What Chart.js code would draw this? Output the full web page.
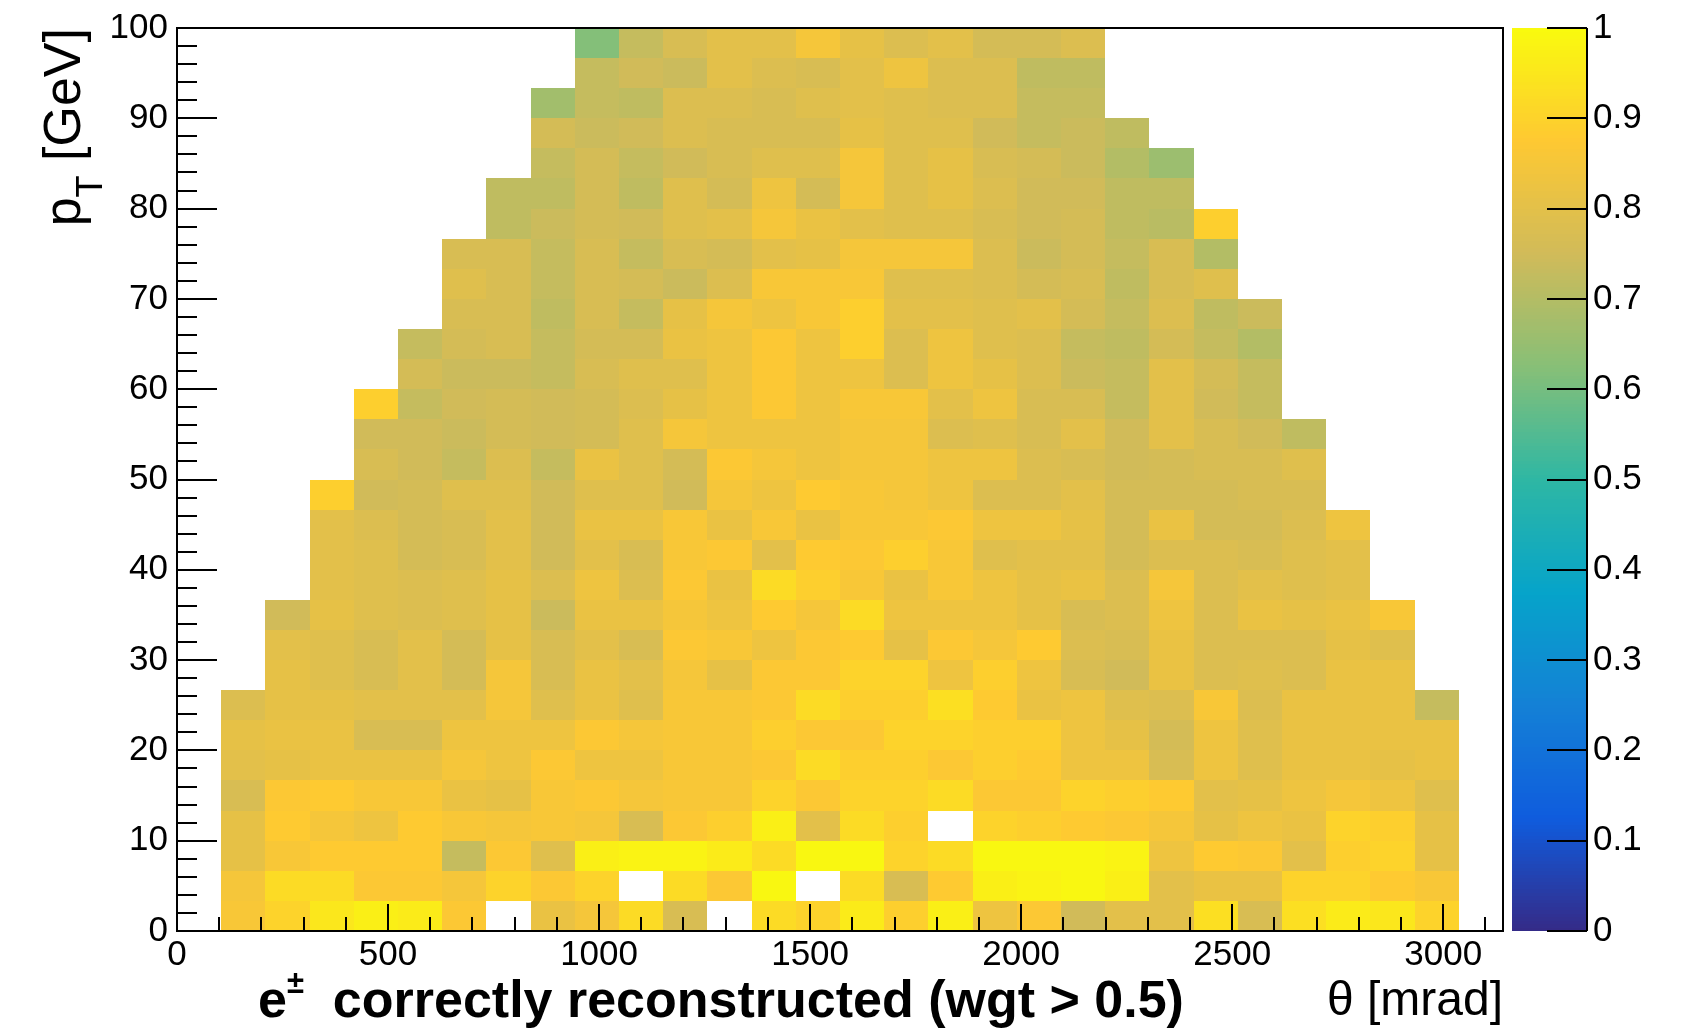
<!DOCTYPE html>
<html>
<head>
<meta charset="utf-8">
<title>e± correctly reconstructed (wgt &gt; 0.5)</title>
<script src="https://cdn.jsdelivr.net/npm/chart.js@4.4.1/dist/chart.umd.min.js"></script>
<style>
  html, body { margin: 0; padding: 0; background: #fff; }
  #wrap { position: relative; width: 1683px; height: 1029px; }
</style>
</head>
<body>
<div id="wrap"><canvas id="effMap"></canvas></div>
<script>
// --- binning ---
const THETA_MAX = 1000 * Math.PI;   // mrad
const N_THETA = 30;
const PT_MAX = 100;                 // GeV
const N_PT = 30;
const thetaStep = THETA_MAX / N_THETA;
const ptStep = PT_MAX / N_PT;

// efficiency per theta bin, each list runs from the lowest pT bin upward
// (null = empty bin, left unpainted)
const effByThetaBin = [
  [],
  [0.86, 0.85, 0.81, 0.81, 0.77, 0.80, 0.81, 0.78],
  [0.90, 0.92, 0.86, 0.88, 0.87, 0.81, 0.82, 0.81, 0.81, 0.80, 0.75],
  [0.95, 0.92, 0.88, 0.85, 0.88, 0.82, 0.82, 0.81, 0.79, 0.79, 0.81, 0.80, 0.80, 0.80, 0.89],
  [0.97, 0.87, 0.88, 0.83, 0.86, 0.82, 0.77, 0.80, 0.77, 0.77, 0.79, 0.79, 0.79, 0.78, 0.75, 0.77, 0.75, 0.89],
  [0.96, 0.87, 0.88, 0.88, 0.86, 0.82, 0.77, 0.80, 0.80, 0.80, 0.78, 0.78, 0.76, 0.76, 0.76, 0.75, 0.75, 0.73, 0.76, 0.73],
  [0.87, 0.85, 0.73, 0.86, 0.82, 0.85, 0.83, 0.80, 0.76, 0.76, 0.79, 0.79, 0.77, 0.77, 0.79, 0.73, 0.74, 0.75, 0.74, 0.76, 0.77, 0.79, 0.77],
  [null, 0.90, 0.87, 0.85, 0.81, 0.83, 0.83, 0.85, 0.85, 0.81, 0.81, 0.81, 0.80, 0.80, 0.79, 0.78, 0.76, 0.76, 0.74, 0.77, 0.77, 0.77, 0.77, 0.72, 0.72],
  [0.82, 0.87, 0.79, 0.86, 0.86, 0.87, 0.83, 0.79, 0.77, 0.77, 0.74, 0.78, 0.75, 0.75, 0.75, 0.73, 0.75, 0.75, 0.73, 0.73, 0.72, 0.73, 0.73, 0.74, 0.72, 0.73, 0.76, 0.67],
  [0.85, 0.90, 0.97, 0.85, 0.87, 0.83, 0.87, 0.82, 0.82, 0.80, 0.82, 0.83, 0.80, 0.82, 0.79, 0.82, 0.76, 0.76, 0.77, 0.76, 0.77, 0.77, 0.77, 0.76, 0.76, 0.76, 0.74, 0.73, 0.73, 0.62],
  [0.92, null, 0.98, 0.77, 0.85, 0.83, 0.85, 0.79, 0.80, 0.77, 0.82, 0.78, 0.77, 0.82, 0.79, 0.79, 0.79, 0.78, 0.79, 0.76, 0.73, 0.76, 0.73, 0.75, 0.72, 0.73, 0.75, 0.72, 0.75, 0.73],
  [0.77, 0.92, 0.98, 0.87, 0.86, 0.86, 0.86, 0.86, 0.85, 0.87, 0.85, 0.87, 0.86, 0.86, 0.75, 0.76, 0.85, 0.81, 0.79, 0.82, 0.81, 0.74, 0.77, 0.79, 0.79, 0.75, 0.78, 0.78, 0.74, 0.77],
  [null, 0.87, 0.96, 0.89, 0.86, 0.86, 0.86, 0.86, 0.81, 0.86, 0.83, 0.82, 0.87, 0.82, 0.85, 0.87, 0.83, 0.83, 0.83, 0.83, 0.85, 0.78, 0.76, 0.80, 0.76, 0.77, 0.77, 0.78, 0.80, 0.80],
  [0.92, 0.99, 0.92, 0.97, 0.90, 0.87, 0.89, 0.87, 0.87, 0.83, 0.88, 0.92, 0.80, 0.86, 0.83, 0.85, 0.83, 0.87, 0.87, 0.87, 0.83, 0.86, 0.80, 0.85, 0.83, 0.79, 0.77, 0.77, 0.78, 0.80],
  [0.90, null, 0.99, 0.80, 0.87, 0.92, 0.87, 0.92, 0.87, 0.87, 0.85, 0.89, 0.88, 0.82, 0.88, 0.83, 0.83, 0.83, 0.83, 0.83, 0.86, 0.86, 0.81, 0.82, 0.76, 0.79, 0.77, 0.79, 0.77, 0.85],
  [0.96, 0.92, 0.99, 0.92, 0.90, 0.89, 0.87, 0.89, 0.90, 0.88, 0.92, 0.86, 0.87, 0.86, 0.86, 0.85, 0.85, 0.86, 0.83, 0.89, 0.89, 0.86, 0.85, 0.80, 0.85, 0.85, 0.81, 0.80, 0.80, 0.81],
  [0.89, 0.77, 0.90, 0.89, 0.90, 0.89, 0.90, 0.89, 0.90, 0.81, 0.83, 0.82, 0.89, 0.86, 0.85, 0.85, 0.85, 0.86, 0.78, 0.78, 0.80, 0.79, 0.85, 0.79, 0.79, 0.79, 0.79, 0.79, 0.83, 0.78],
  [0.97, 0.88, 0.92, null, 0.92, 0.87, 0.90, 0.93, 0.83, 0.87, 0.83, 0.86, 0.86, 0.87, 0.83, 0.83, 0.78, 0.80, 0.83, 0.83, 0.80, 0.79, 0.85, 0.79, 0.81, 0.81, 0.79, 0.78, 0.78, 0.80],
  [0.83, 0.97, 0.99, 0.90, 0.87, 0.89, 0.89, 0.88, 0.89, 0.85, 0.83, 0.83, 0.79, 0.83, 0.78, 0.83, 0.79, 0.83, 0.81, 0.79, 0.79, 0.78, 0.78, 0.77, 0.78, 0.77, 0.75, 0.78, 0.78, 0.76],
  [0.87, 0.98, 0.99, 0.89, 0.87, 0.88, 0.89, 0.82, 0.83, 0.88, 0.81, 0.81, 0.80, 0.83, 0.78, 0.78, 0.77, 0.77, 0.78, 0.78, 0.80, 0.76, 0.74, 0.75, 0.75, 0.76, 0.73, 0.73, 0.72, 0.76],
  [0.75, 0.99, 0.99, 0.88, 0.90, 0.83, 0.83, 0.83, 0.77, 0.78, 0.77, 0.82, 0.80, 0.81, 0.80, 0.77, 0.80, 0.77, 0.74, 0.73, 0.76, 0.77, 0.76, 0.76, 0.75, 0.74, 0.74, 0.73, 0.72, 0.78],
  [0.80, 0.97, 0.98, 0.87, 0.89, 0.83, 0.81, 0.79, 0.75, 0.77, 0.78, 0.78, 0.76, 0.76, 0.76, 0.75, 0.75, 0.73, 0.73, 0.72, 0.73, 0.72, 0.73, 0.72, 0.72, 0.70, 0.72],
  [0.80, 0.80, 0.83, 0.85, 0.88, 0.77, 0.76, 0.78, 0.82, 0.82, 0.83, 0.85, 0.78, 0.82, 0.76, 0.76, 0.80, 0.80, 0.80, 0.76, 0.78, 0.77, 0.77, 0.71, 0.72, 0.66],
  [0.93, 0.82, 0.88, 0.81, 0.80, 0.83, 0.83, 0.86, 0.78, 0.78, 0.78, 0.78, 0.78, 0.76, 0.76, 0.77, 0.77, 0.75, 0.76, 0.73, 0.72, 0.79, 0.70, 0.89],
  [0.77, 0.82, 0.87, 0.83, 0.81, 0.79, 0.79, 0.78, 0.79, 0.78, 0.82, 0.80, 0.77, 0.76, 0.77, 0.77, 0.75, 0.73, 0.73, 0.70, 0.74],
  [0.93, 0.90, 0.80, 0.82, 0.83, 0.82, 0.82, 0.82, 0.78, 0.78, 0.81, 0.79, 0.79, 0.78, 0.77, 0.79, 0.72],
  [0.96, 0.90, 0.89, 0.90, 0.85, 0.82, 0.82, 0.82, 0.82, 0.81, 0.82, 0.80, 0.80, 0.83],
  [0.95, 0.88, 0.90, 0.89, 0.83, 0.81, 0.82, 0.82, 0.82, 0.79, 0.86],
  [0.90, 0.86, 0.81, 0.81, 0.79, 0.82, 0.82, 0.73],
  []
];

// ROOT kBird palette
const birdStops = [0.0, 0.125, 0.25, 0.375, 0.5, 0.625, 0.75, 0.875, 1.0];
const birdRed   = [0.2082, 0.0592, 0.0780, 0.0232, 0.1802, 0.5301, 0.8186, 0.9956, 0.9764];
const birdGreen = [0.1664, 0.3599, 0.5041, 0.6419, 0.7178, 0.7492, 0.7328, 0.7862, 0.9832];
const birdBlue  = [0.5293, 0.8684, 0.8385, 0.7914, 0.6425, 0.4662, 0.3499, 0.1968, 0.0539];

const FONT = '"Liberation Sans", Arial, Helvetica, sans-serif';

function birdColor(v) {
  v = Math.min(1, Math.max(0, v));
  let k = 0;
  while (k < birdStops.length - 2 && v > birdStops[k + 1]) k++;
  const t = (v - birdStops[k]) / (birdStops[k + 1] - birdStops[k]);
  const mix = arr => Math.round(255 * (arr[k] + t * (arr[k + 1] - arr[k])));
  return `rgb(${mix(birdRed)},${mix(birdGreen)},${mix(birdBlue)})`;
}

// one point per filled bin, at the bin centre
const cells = [];
effByThetaBin.forEach((col, i) => {
  col.forEach((v, j) => {
    if (v === null) return;
    cells.push({ x: (i + 0.5) * thetaStep, y: (j + 0.5) * ptStep, v: v });
  });
});

// --- draws the bins as coloured boxes (like COLZ) ---
const colzPlugin = {
  id: 'colz',
  beforeDatasetsDraw(chart) {
    const { ctx, scales: { x, y } } = chart;
    ctx.save();
    chart.data.datasets[0].data.forEach(c => {
      // bin edges from the bin index so neighbours share the same pixel edge
      const i = Math.floor(c.x / thetaStep);
      const j = Math.floor(c.y / ptStep);
      const x0 = Math.round(x.getPixelForValue(i * thetaStep));
      const x1 = Math.round(x.getPixelForValue((i + 1) * thetaStep));
      const y0 = Math.round(y.getPixelForValue(j * ptStep));
      const y1 = Math.round(y.getPixelForValue((j + 1) * ptStep));
      ctx.fillStyle = birdColor(c.v);
      ctx.fillRect(x0, y1, x1 - x0, y0 - y1);
    });
    ctx.restore();
  },
  afterDraw(chart) {
    const { ctx, chartArea: area, scales: { x, y, zAxis } } = chart;
    ctx.save();
    ctx.strokeStyle = '#000';
    ctx.lineWidth = 2;

    // frame
    ctx.strokeRect(area.left, area.top, area.right - area.left, area.bottom - area.top);

    // ticks pointing inwards
    ctx.beginPath();
    x.ticks.forEach(t => {
      const px = Math.round(x.getPixelForValue(t.value));
      const len = Math.round(t.value) % 500 === 0 ? 27 : 14;
      ctx.moveTo(px, area.bottom);
      ctx.lineTo(px, area.bottom - len);
    });
    y.ticks.forEach(t => {
      const py = Math.round(y.getPixelForValue(t.value));
      const len = Math.round(t.value) % 10 === 0 ? 40 : 20;
      ctx.moveTo(area.left, py);
      ctx.lineTo(area.left + len, py);
    });
    ctx.stroke();

    // colour scale
    const barL = zAxis.left + 9, barR = zAxis.left + 84;
    const nCol = 255;
    for (let k = 0; k < nCol; k++) {
      const ya = zAxis.getPixelForValue(k / nCol);
      const yb = zAxis.getPixelForValue((k + 1) / nCol);
      ctx.fillStyle = birdColor((k + 0.5) / nCol);
      ctx.fillRect(barL, Math.floor(yb), barR - barL, Math.ceil(ya) - Math.floor(yb));
    }
    ctx.beginPath();
    ctx.moveTo(barR, zAxis.top);
    ctx.lineTo(barR, zAxis.bottom);
    zAxis.ticks.forEach(t => {
      const py = Math.round(zAxis.getPixelForValue(t.value));
      ctx.moveTo(barR - 40, py);
      ctx.lineTo(barR, py);
    });
    ctx.stroke();

    // axis titles
    ctx.fillStyle = '#000';
    ctx.textBaseline = 'alphabetic';

    // y: p_T [GeV], rotated, ending at the top of the frame
    ctx.save();
    ctx.translate(80, area.top);
    ctx.rotate(-Math.PI / 2);
    ctx.font = `52px ${FONT}`;
    const wP = ctx.measureText('p').width;
    const wRest = ctx.measureText(' [GeV]').width;
    ctx.font = `36px ${FONT}`;
    const wT = ctx.measureText('T').width;
    let tx = -(wP + wT + wRest);
    ctx.font = `52px ${FONT}`;
    ctx.textAlign = 'left';
    ctx.fillText('p', tx, 0);
    tx += wP;
    ctx.font = `36px ${FONT}`;
    ctx.fillText('T', tx, 22);
    tx += wT;
    ctx.font = `52px ${FONT}`;
    ctx.fillText(' [GeV]', tx, 0);
    ctx.restore();

    // x: theta [mrad], right aligned
    ctx.font = `48px ${FONT}`;
    ctx.textAlign = 'right';
    ctx.fillText('\u03B8 [mrad]', area.right, 1015);

    // histogram title under the axis
    ctx.textAlign = 'left';
    let bx = 258;
    const base = 1017;
    ctx.font = `bold 52px ${FONT}`;
    ctx.fillText('e', bx, base);
    bx += ctx.measureText('e').width;
    ctx.font = `bold 31px ${FONT}`;
    ctx.fillText('\u00B1', bx, base - 24);
    bx += ctx.measureText('\u00B1').width;
    ctx.font = `bold 52px ${FONT}`;
    bx += ctx.measureText('  ').width;
    ctx.fillText('correctly reconstructed (wgt > 0.5)', bx, base);

    ctx.restore();
  }
};

const ctx = document.getElementById('effMap').getContext('2d');
const effChart = new Chart(ctx, {
  type: 'scatter',
  data: {
    datasets: [{
      label: 'efficiency',
      data: cells,
      pointRadius: 0,
      pointHoverRadius: 0
    }]
  },
  options: {
    responsive: true,
    maintainAspectRatio: false,
    animation: false,
    events: [],
    layout: { padding: { top: 28, left: 0, right: 0, bottom: 0 } },
    plugins: {
      legend: { display: false },
      tooltip: { enabled: false }
    },
    scales: {
      x: {
        type: 'linear',
        position: 'bottom',
        min: 0,
        max: THETA_MAX,
        grid: { display: false, tickLength: 3 },
        border: { display: false },
        afterFit: s => { s.height = 98; },
        ticks: {
          stepSize: 100,
          includeBounds: false,
          autoSkip: false,
          maxRotation: 0,
          padding: 0,
          color: '#000',
          font: { family: FONT, size: 35 },
          callback: v => (Math.round(v) % 500 === 0 ? String(Math.round(v)) : '')
        }
      },
      y: {
        type: 'linear',
        position: 'left',
        min: 0,
        max: PT_MAX,
        grid: { display: false, tickLength: 7 },
        border: { display: false },
        afterFit: s => { s.width = 177; },
        ticks: {
          stepSize: 2,
          autoSkip: false,
          padding: 2,
          color: '#000',
          font: { family: FONT, size: 35 },
          callback: v => (Math.round(v) % 10 === 0 ? String(Math.round(v)) : '')
        }
      },
      zAxis: {
        type: 'linear',
        axis: 'y',
        position: 'right',
        min: 0,
        max: 1,
        grid: { display: false, tickLength: 88 },
        border: { display: false },
        afterFit: s => { s.width = 180; },
        ticks: {
          stepSize: 0.1,
          autoSkip: false,
          padding: 2,
          color: '#000',
          font: { family: FONT, size: 35 },
          callback: v => String(+v.toFixed(1))
        }
      }
    }
  },
  plugins: [colzPlugin]
});
</script>
</body>
</html>
